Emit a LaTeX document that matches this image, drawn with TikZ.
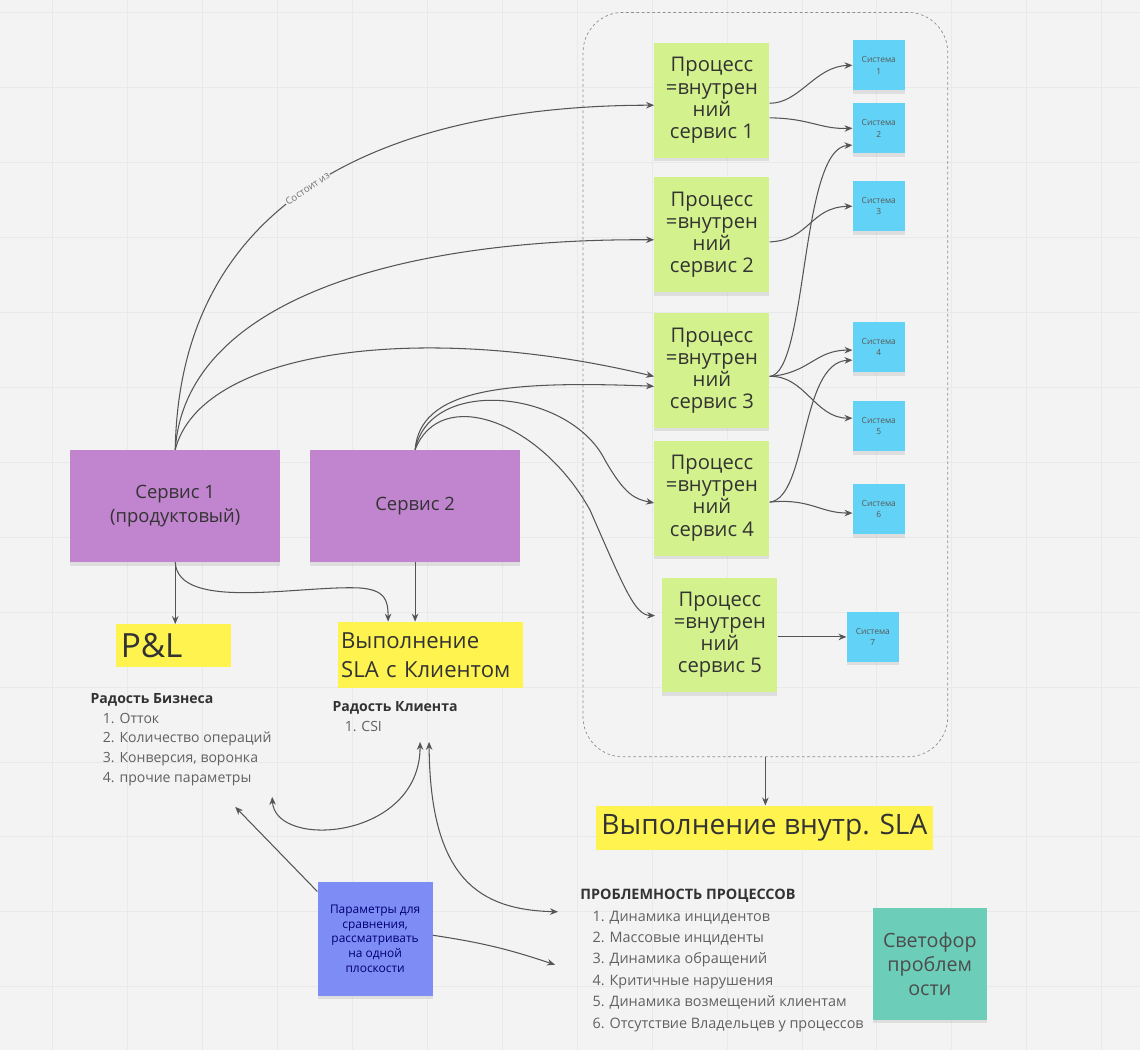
\documentclass[tikz,border=0pt]{standalone}
\usepackage{fontspec}
\setmainfont{Open Sans}
\usetikzlibrary{positioning,arrows.meta,shadows}
\definecolor{bgc}{HTML}{F3F3F3}
\definecolor{gridc}{HTML}{E9E9E9}
\definecolor{procgreen}{HTML}{D3F18C}
\definecolor{sysblue}{HTML}{62D3F6}
\definecolor{srvviolet}{HTML}{C184CE}
\definecolor{noteyellow}{HTML}{FFF44F}
\definecolor{parblue}{HTML}{7E8CF5}
\definecolor{svetteal}{HTML}{6CCDB9}
\definecolor{txt}{HTML}{333333}
\definecolor{arr}{HTML}{555555}

\begin{document}
\begin{tikzpicture}[x=0.02cm,y=-0.02cm,>={Stealth[length=1.6mm,width=1.3mm]},
  note/.style={inner sep=2pt,align=center,text=txt,
    drop shadow={shadow xshift=0pt,shadow yshift=-2pt,opacity=0.18}},
  proc/.style={note,fill=procgreen,minimum width=2.3cm,minimum height=2.3cm,
    font=\fontsize{11.5}{12.6}\selectfont},
  sys/.style={note,fill=sysblue,minimum width=1.04cm,minimum height=1cm,
    font=\fontsize{4.8}{6.5}\selectfont,text=black!65},
  srv/.style={note,fill=srvviolet,minimum width=4.2cm,minimum height=2.24cm,
    font=\fontsize{10.5}{13.6}\selectfont},
  goal/.style={fill=noteyellow,inner sep=3pt,text=txt,align=left},
  lst/.style={anchor=north west,align=left,inner sep=0pt,text=black!62},
  link/.style={->,draw=arr,line width=0.6pt},
  twoway/.style={<->,draw=arr,line width=0.6pt}]

% canvas
\fill[bgc] (0,0) rectangle (1140,1050);
\foreach \g in {52,127,...,1140} \draw[gridc,line width=0.4pt] (\g,0) -- (\g,1050);
\foreach \g in {12,87,...,1050} \draw[gridc,line width=0.4pt] (0,\g) -- (1140,\g);
\useasboundingbox (0,0) rectangle (1140,1050);

% group of internal services
\node[draw=black!45,dash pattern=on 1.5pt off 1.5pt,line width=0.4pt,rounded corners=0.8cm,
  minimum width=7.3cm,minimum height=14.9cm] (grp) at (765.5,384.5) {};

% processes
\node[proc] (p1) at (712,100) {Процесс\\=внутрен\\ний\\сервис 1};
\node[proc,below=0.38cm of p1] (p2) {Процесс\\=внутрен\\ний\\сервис 2};
\node[proc,below=0.4cm of p2] (p3) {Процесс\\=внутрен\\ний\\сервис 3};
\node[proc,below=0.24cm of p3] (p4) {Процесс\\=внутрен\\ний\\сервис 4};
\node[proc] (p5) at (720,635) {Процесс\\=внутрен\\ний\\сервис 5};

% systems
\foreach \n/\x/\y in {1/879/65,2/879/128,3/879/206,4/879/347,5/879/426,6/879/509,7/873/637}
  \node[sys] (sys\n) at (\x,\y) {Система\\\n};

% services
\node[srv] (srv1) at (175,506) {Сервис 1\\(продуктовый)};
\node[srv] (srv2) at (415,506) {Сервис 2};

% goals
\node[goal,text width=2.1cm,minimum height=0.86cm,font=\fontsize{19}{22}\selectfont] (pl) at (173,646) {P\&L};
\node[goal,inner sep=2pt,text width=3.56cm,minimum height=1.32cm,font=\fontsize{12.6}{16.5}\selectfont] (slac) at (430,655) {Выполнение\\SLA с Клиентом};
\node[goal,align=center,minimum width=6.7cm,minimum height=0.88cm,font=\fontsize{16}{19}\selectfont] (slai) at (764.5,828) {Выполнение внутр. SLA};

% lists
\node[lst,font=\fontsize{8}{11.3}\selectfont] (biz) at (90,693) {\textbf{\color{txt}Радость Бизнеса}\\
  \hspace*{7pt}1. Отток\\ \hspace*{7pt}2. Количество операций\\
  \hspace*{7pt}3. Конверсия, воронка\\ \hspace*{7pt}4. прочие параметры};
\node[lst,font=\fontsize{8}{11.3}\selectfont] (cli) at (332,701) {\textbf{\color{txt}Радость Клиента}\\
  \hspace*{7pt}1. CSI};
\node[lst,font=\fontsize{8.2}{12.2}\selectfont] (prb) at (580,889) {\textbf{\color{txt}ПРОБЛЕМНОСТЬ ПРОЦЕССОВ}\\
  \hspace*{7pt}1. Динамика инцидентов\\ \hspace*{7pt}2. Массовые инциденты\\
  \hspace*{7pt}3. Динамика обращений\\ \hspace*{7pt}4. Критичные нарушения\\
  \hspace*{7pt}5. Динамика возмещений клиентам\\ \hspace*{7pt}6. Отсутствие Владельцев у процессов};

% notes at the bottom
\node[note,fill=parblue,minimum width=2.3cm,minimum height=2.28cm,text=blue!45!black,
  font=\fontsize{6.8}{8.5}\selectfont] (par) at (375,939) {Параметры для\\сравнения,\\рассматривать\\на одной\\плоскости};
\node[note,fill=svetteal,minimum width=2.28cm,minimum height=2.24cm,text=black!70,
  font=\fontsize{11.2}{13.6}\selectfont] (svet) at (930,964) {Светофор\\проблем\\ости};

\coordinate (bizend) at (272,797);
\coordinate (cliL) at (420,742);
\coordinate (cliR) at (429,742);
\coordinate (prbtop) at (558,912);
\coordinate (bizpar) at (235,807);
\coordinate (prbpar) at (555,965);

% service 1 -> processes
\draw[link] (srv1.north) .. controls (180,160) and (450,105) .. ([yshift=-2.8pt]p1.west)
  node[pos=0.44,sloped,fill=bgc,inner sep=0.5pt,text=black!55,font=\fontsize{5.5}{6}\selectfont] {Состоит из};
\draw[link] (srv1.north) .. controls (185,300) and (400,238) .. ([yshift=-2.8pt]p2.west);
\draw[link] (srv1.north) .. controls (200,350) and (420,320) .. ([yshift=-3.4pt]p3.west);

% service 2 -> processes
\draw[link] (srv2.north) .. controls (420,390) and (500,380) .. ([yshift=-9pt]p3.west);
\draw[link] (srv2.north) .. controls (430,375) and (570,390) .. (605,460)
  .. controls (625,495) and (635,499) .. ([yshift=-2.8pt]p4.west);
\draw[link] (srv2.north) .. controls (440,385) and (540,420) .. (590,510)
  .. controls (625,590) and (635,615) .. ([xshift=-4pt,yshift=11pt]p5.west);

% processes -> systems
\draw[link] ([yshift=-1.7pt]p1.east) .. controls (800,103) and (815,66) .. (sys1.west);
\draw[link] ([yshift=-10pt]p1.east) .. controls (810,118) and (820,129) .. (sys2.west);
\draw[link] ([yshift=-4pt]p2.east) .. controls (810,240) and (810,207) .. (sys3.west);
\draw[link] ([yshift=-3.4pt]p3.east) .. controls (808,373) and (800,148) .. ([yshift=-9.6pt]sys2.west);
\draw[link] ([yshift=-3.4pt]p3.east) .. controls (810,373) and (815,350) .. ([yshift=-1.7pt]sys4.west);
\draw[link] ([yshift=-3.4pt]p3.east) .. controls (805,375) and (815,418) .. ([yshift=4.5pt]sys5.west);
\draw[link] ([yshift=-2.3pt]p4.east) .. controls (808,498) and (800,362) .. ([yshift=-7.4pt]sys4.west);
\draw[link] ([yshift=-2.3pt]p4.east) .. controls (810,498) and (820,513) .. ([yshift=-2.3pt]sys6.west);
\draw[link] (p5.east |- sys7) -- (sys7.west);

% services -> goals
\draw[link] (srv1.south) -- (srv1.south |- pl.north);
\draw[link] (srv1.south) .. controls (178,612) and (300,585) .. (360,588)
  .. controls (385,590) and (388,600) .. ([xshift=-0.84cm]slac.north);
\draw[link] (srv2.south) -- (srv2.south |- slac.north);
\draw[link] (grp.south) -- (grp.south |- slai.north);

% relations between the lists
\draw[twoway] (bizend) .. controls (275,850) and (420,840) .. (cliL);
\draw[twoway] (cliR) .. controls (430,880) and (480,910) .. (prbtop);
\draw[link] ([yshift=-5.7pt]par.north west) -- (bizpar);
\draw[link] ([yshift=2pt]par.east) to[bend left=5] (prbpar);
\end{tikzpicture}
\end{document}
